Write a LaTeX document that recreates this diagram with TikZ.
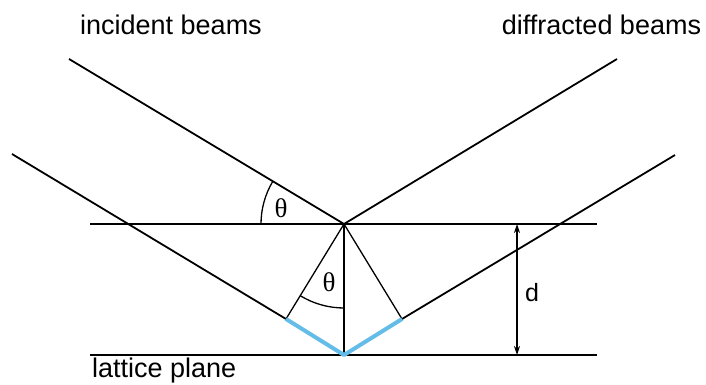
\documentclass[tikz,border=0pt]{standalone}
\usepackage{fontspec}
\setmainfont{Liberation Sans}
\newfontfamily\serifth{Liberation Serif}
\usetikzlibrary{arrows.meta}
\definecolor{beamblue}{RGB}{100,188,232}
\tikzset{
  beam/.style={line width=1.8pt, black},
  plane/.style={line width=2pt, black},
  thin/.style={line width=1.3pt, black},
  path/.style={line width=4pt, beamblue, line join=round},
  lbl/.style={font=\fontsize{27}{30}\selectfont, anchor=base, inner sep=0pt},
  thlbl/.style={font=\serifth\fontsize{27}{30}\selectfont, inner sep=0pt},
  dim/.style={line width=1.1pt, {Stealth[length=9pt,width=6pt]}-{Stealth[length=9pt,width=6pt]}}
}
\begin{document}
\begin{tikzpicture}[x=1pt,y=1pt]
\useasboundingbox (0,0) rectangle (706,385);
\coordinate (O) at (344,161);
\coordinate (A1) at (69,326);
\coordinate (D1) at (617,326);
\coordinate (A2) at (12,231);
\coordinate (D2) at (675,230);
\coordinate (P) at (286,66);
\coordinate (Q) at (402,66);
\coordinate (B) at (344,30);
\coordinate (TL) at (90,161);
\coordinate (TR) at (597,161);
\coordinate (BL) at (90,30);
\coordinate (BR) at (597,30);
\coordinate (dT) at (517,161);
\coordinate (dB) at (517,30);
% planes
\draw[plane] (TL) -- (TR);
\draw[plane] (BL) -- (BR);
% beams
\draw[beam] (A1) -- (O) -- (D1);
\draw[beam] (A2) -- (P);
\draw[beam] (Q) -- (D2);
% construction
\draw[thin] (O) -- (B);
\draw[thin] (O) -- (P);
\draw[thin] (O) -- (Q);
\draw[path] (P) -- (B) -- (Q);
% angles
\draw[thin] (O) ++(180:83) arc[start angle=180, end angle=149.04, radius=83];
\draw[thin] (O) ++(270:84) arc[start angle=270, end angle=238.6, radius=84];
\node[thlbl] (th1) at (281,177) {θ};
\node[thlbl] (th2) at (329,103) {θ};
% d
\draw[dim] (dT) -- (dB);
\node[font=\fontsize{25}{28}\selectfont, inner sep=0pt] (d) at (532,92) {d};
% labels
\node[lbl] (inc) at (171,350) {incident beams};
\node[lbl] (dif) at (601.5,350) {diffracted beams};
\node[lbl, anchor=base west] (lat) at (92,7) {lattice plane};
\end{tikzpicture}
\end{document}
